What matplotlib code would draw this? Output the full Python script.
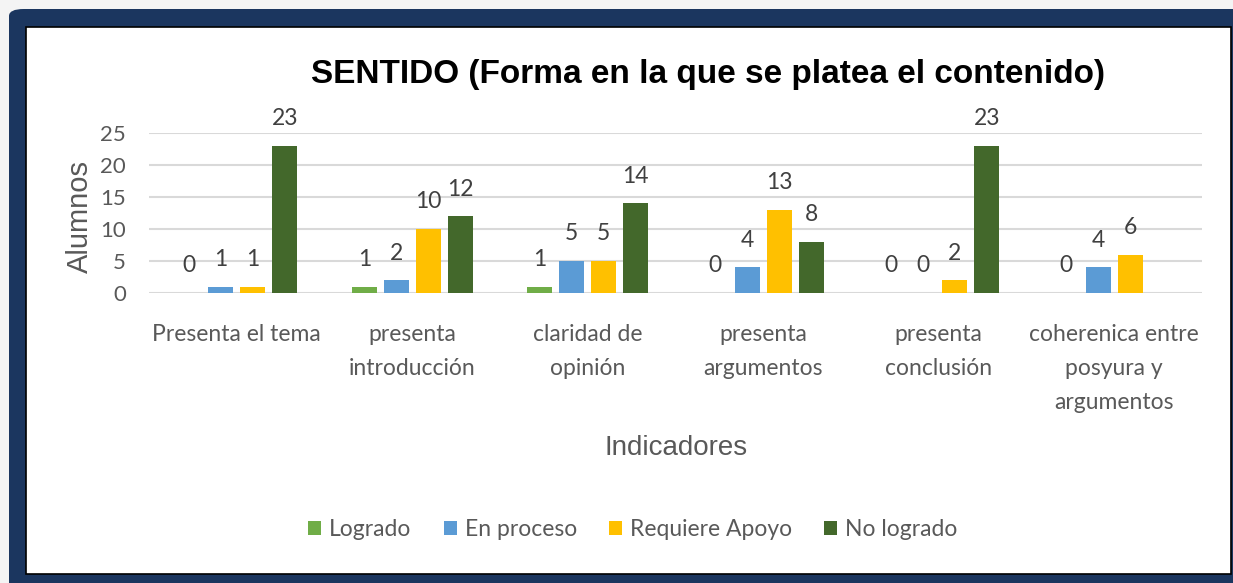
import matplotlib
matplotlib.use("Agg")
import matplotlib.pyplot as plt
import numpy as np
from matplotlib.patches import FancyBboxPatch, Rectangle

# --- data -------------------------------------------------------------------
categories = [
    "Presenta el tema",
    "presenta\nintroducción",
    "claridad de\nopinión",
    "presenta\nargumentos",
    "presenta\nconclusión",
    "coherenica entre\nposyura y\nargumentos",
]
series_names = ["Logrado", "En proceso", "Requiere Apoyo", "No logrado"]
logrado = [0, 1, 1, 0, 0, 0]
en_proceso = [1, 2, 5, 4, 0, 4]
requiere_apoyo = [1, 10, 5, 13, 2, 6]
no_logrado = [23, 12, 14, 8, 23, None]
yticks = [0, 5, 10, 15, 20, 25]

# --- style ------------------------------------------------------------------
COLORS = ["#70AD47", "#5B9BD5", "#FFC000", "#43682B"]
NAVY = "#1B365F"
GRID = "#D9D9D9"
TEXT = "#595959"
LABEL = "#404040"
BODY_FONT = ["Lato", "DejaVu Sans"]
ARIAL = ["Liberation Sans", "DejaVu Sans"]
TITLE_FONT = ["Liberation Sans Narrow", "Liberation Sans", "DejaVu Sans"]

W, H = 1233, 583
fig = plt.figure(figsize=(W / 100, H / 100), dpi=100)
fig.patch.set_facecolor("#F4F4F4")


def px(x, y):
    """pixel (top-left origin) -> figure fraction"""
    return x / W, 1 - y / H


# frame: navy rounded border with a white panel inside
fig.patches.append(FancyBboxPatch(
    (9 / W, -0.05), (W + 20) / W, (H - 9) / H + 0.05,
    boxstyle="round,pad=0,rounding_size=0.012",
    transform=fig.transFigure, facecolor=NAVY, edgecolor="none", zorder=0))
x0, y0 = px(26, 574)
x1, y1 = px(1231, 27)
fig.patches.append(Rectangle(
    (x0, y0), x1 - x0, y1 - y0, transform=fig.transFigure,
    facecolor="white", edgecolor="black", linewidth=1.2, zorder=1))

left, top = px(149, 133)
right, bottom = px(1202, 293)
ax = fig.add_axes([left, bottom, right - left, top - bottom], zorder=2)
ax.set_facecolor("none")

x = np.arange(len(categories))
step = 0.182
width = 0.142
offsets = (np.arange(len(series_names)) - 1.5) * step
all_series = [logrado, en_proceso, requiere_apoyo, no_logrado]

for i, (name, vals) in enumerate(zip(series_names, all_series)):
    pos = [xi + offsets[i] for xi, v in zip(x, vals) if v is not None]
    hv = [v for v in vals if v is not None]
    bars = ax.bar(pos, hv, width=width, color=COLORS[i], label=name, zorder=3)
    for b, v in zip(bars, hv):
        ax.annotate(str(v), xy=(b.get_x() + b.get_width() / 2, v),
                    xytext=(0, 19.5), textcoords="offset points",
                    ha="center", va="center", fontsize=16.5, color=LABEL,
                    family=BODY_FONT)

ax.set_xlim(-0.5, len(categories) - 0.5)
ax.set_ylim(0, 25)
ax.set_yticks(yticks)
ax.yaxis.grid(True, color=GRID, linewidth=1.5, zorder=0)
ax.set_axisbelow(True)
for s in ax.spines.values():
    s.set_visible(False)
ax.tick_params(axis="both", length=0, colors=TEXT)
ax.tick_params(axis="y", labelsize=16, pad=16.5)
ax.set_xticks(x)
ax.set_xticklabels(categories, fontsize=16.5, linespacing=1.75,
                   family=BODY_FONT)
ax.tick_params(axis="x", pad=22.5)
for t in ax.get_yticklabels():
    t.set_family(BODY_FONT)

ax.set_ylabel("Alumnos", fontsize=21, color=TEXT, family=ARIAL)
ax.yaxis.set_label_coords(-0.052, 0.48)

fig.text(*px(676, 448), "Indicadores", ha="center", va="center",
         fontsize=20, color=TEXT, family=ARIAL)
fig.text(*px(708, 75), "SENTIDO (Forma en la que se platea el contenido)",
         ha="center", va="center", fontsize=24, fontweight="bold",
         color="black", family=TITLE_FONT)

handles, labels = ax.get_legend_handles_labels()
fig.legend(handles, labels, loc="center", bbox_to_anchor=px(633, 530),
           ncol=4, frameon=False, handlelength=0.57, handleheight=0.57,
           handletextpad=0.35, columnspacing=1.4, labelcolor=TEXT,
           prop={"family": BODY_FONT, "size": 16.5})

fig.savefig("out.png", dpi=100, facecolor=fig.get_facecolor())
